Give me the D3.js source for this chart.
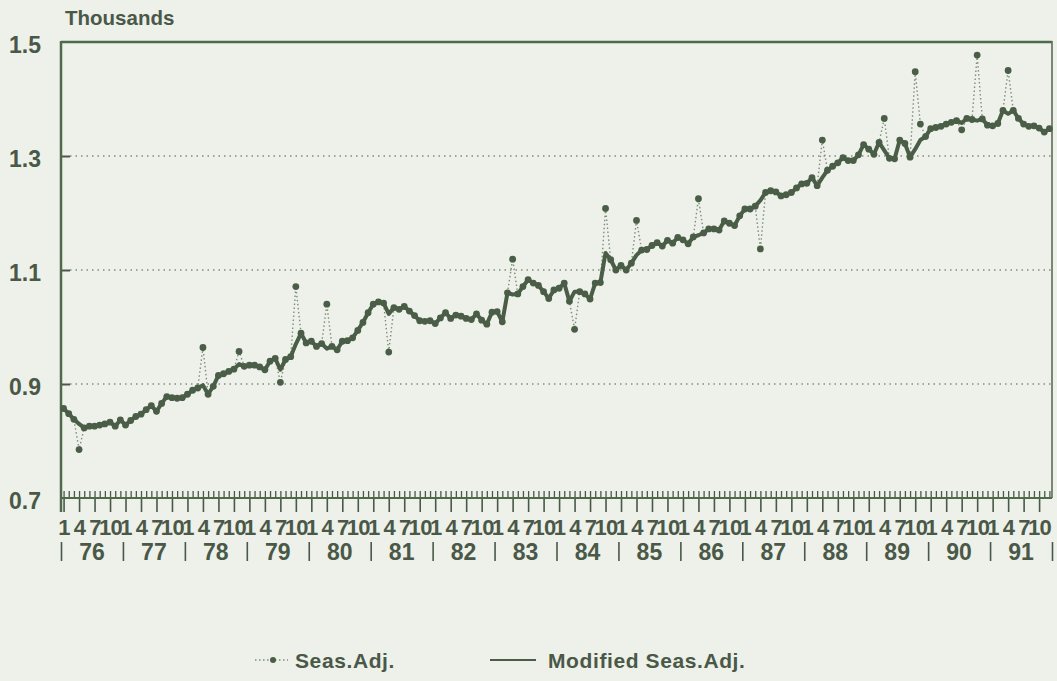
<!DOCTYPE html>
<html>
<head>
<meta charset="utf-8">
<script src="https://cdn.jsdelivr.net/npm/d3@7"></script>
<style>
  html, body { margin: 0; padding: 0; background: #edf1ea; }
  svg { display: block; font-family: "Liberation Sans", Arial, sans-serif; font-weight: bold; }
</style>
</head>
<body>
<div id="chart"></div>
<script>
const yearLabels = ["76", "77", "78", "79", "80", "81", "82", "83", "84", "85", "86", "87", "88", "89", "90", "91"];
const monthLabels = ["1", "4", "7", "10"];
const yTicks = [0.7, 0.9, 1.1, 1.3, 1.5];
const gridValues = [0.9, 1.1, 1.3];

// monthly values, Jan 1976 .. Dec 1991 (thousands)
const modified = [
  0.857, 0.848, 0.838, 0.830, 0.823, 0.826, 0.826, 0.828, 0.830, 0.833, 0.826, 0.837,
  0.828, 0.836, 0.843, 0.847, 0.855, 0.862, 0.852, 0.866, 0.878, 0.876, 0.875, 0.876,
  0.882, 0.889, 0.893, 0.898, 0.882, 0.896, 0.915, 0.918, 0.922, 0.926, 0.935, 0.931,
  0.933, 0.933, 0.930, 0.925, 0.940, 0.945, 0.925, 0.943, 0.948, 0.970, 0.989, 0.972,
  0.975, 0.966, 0.971, 0.962, 0.966, 0.960, 0.975, 0.976, 0.981, 0.994, 1.008, 1.025,
  1.040, 1.044, 1.042, 1.023, 1.034, 1.031, 1.036, 1.028, 1.020, 1.011, 1.010, 1.011,
  1.006, 1.016, 1.025, 1.015, 1.021, 1.019, 1.015, 1.013, 1.023, 1.012, 1.005, 1.026,
  1.027, 1.009, 1.060, 1.057, 1.058, 1.071, 1.083, 1.077, 1.073, 1.062, 1.050, 1.065,
  1.068, 1.077, 1.045, 1.062, 1.062, 1.058, 1.049, 1.077, 1.078, 1.130, 1.118, 1.100,
  1.108, 1.100, 1.112, 1.126, 1.135, 1.136, 1.143, 1.148, 1.142, 1.152, 1.147, 1.157,
  1.153, 1.146, 1.158, 1.161, 1.165, 1.172, 1.172, 1.170, 1.186, 1.182, 1.178, 1.195,
  1.207, 1.207, 1.212, 1.222, 1.236, 1.239, 1.237, 1.230, 1.232, 1.236, 1.244, 1.251,
  1.252, 1.262, 1.248, 1.262, 1.275, 1.282, 1.288, 1.297, 1.292, 1.292, 1.302, 1.320,
  1.312, 1.303, 1.324, 1.310, 1.296, 1.295, 1.328, 1.322, 1.298, 1.312, 1.328, 1.334,
  1.348, 1.350, 1.352, 1.356, 1.359, 1.362, 1.358, 1.366, 1.364, 1.362, 1.365, 1.354,
  1.353, 1.357, 1.380, 1.374, 1.380, 1.366, 1.356, 1.352, 1.353, 1.349, 1.342, 1.348
];

const seasAdj = [
  0.857, 0.848, 0.838, 0.785, 0.823, 0.826, 0.826, 0.828, 0.830, 0.833, 0.826, 0.837,
  0.828, 0.836, 0.843, 0.847, 0.855, 0.862, 0.852, 0.866, 0.878, 0.876, 0.875, 0.876,
  0.882, 0.889, 0.893, 0.964, 0.882, 0.896, 0.915, 0.918, 0.922, 0.926, 0.957, 0.931,
  0.933, 0.933, 0.930, 0.925, 0.940, 0.945, 0.903, 0.943, 0.948, 1.071, 0.989, 0.972,
  0.975, 0.966, 0.971, 1.040, 0.966, 0.960, 0.975, 0.976, 0.981, 0.994, 1.008, 1.025,
  1.040, 1.044, 1.042, 0.956, 1.034, 1.031, 1.036, 1.028, 1.020, 1.011, 1.010, 1.011,
  1.006, 1.016, 1.025, 1.015, 1.021, 1.019, 1.015, 1.013, 1.023, 1.012, 1.005, 1.026,
  1.027, 1.009, 1.060, 1.119, 1.058, 1.071, 1.083, 1.077, 1.073, 1.062, 1.050, 1.065,
  1.068, 1.077, 1.045, 0.996, 1.062, 1.058, 1.049, 1.077, 1.078, 1.208, 1.118, 1.100,
  1.108, 1.100, 1.112, 1.187, 1.135, 1.136, 1.143, 1.148, 1.142, 1.152, 1.147, 1.157,
  1.153, 1.146, 1.158, 1.225, 1.165, 1.172, 1.172, 1.170, 1.186, 1.182, 1.178, 1.195,
  1.207, 1.207, 1.212, 1.137, 1.236, 1.239, 1.237, 1.230, 1.232, 1.236, 1.244, 1.251,
  1.252, 1.262, 1.248, 1.328, 1.275, 1.282, 1.288, 1.297, 1.292, 1.292, 1.302, 1.320,
  1.312, 1.303, 1.324, 1.366, 1.296, 1.295, 1.328, 1.322, 1.298, 1.448, 1.356, 1.334,
  1.348, 1.350, 1.352, 1.356, 1.359, 1.362, 1.346, 1.366, 1.364, 1.477, 1.365, 1.354,
  1.353, 1.357, 1.380, 1.450, 1.380, 1.366, 1.356, 1.352, 1.353, 1.349, 1.342, 1.348
];

const legendLabels = ["Seas.Adj.", "Modified Seas.Adj."];

const width = 1057;
const height = 681;
const margin = { top: 42, right: 5, bottom: 183, left: 61 };
const ink = "#4a5847";
const lineInk = "#4a5d47";

const svg = d3.select("#chart")
  .append("svg")
  .attr("width", width)
  .attr("height", height)
  .attr("viewBox", [0, 0, width, height]);

const nMonths = modified.length;
const x = d3.scaleLinear()
  .domain([0, nMonths])
  .range([margin.left, width - margin.right]);
const y = d3.scaleLinear()
  .domain([0.7, 1.5])
  .range([height - margin.bottom, margin.top]);

const y0 = y(0.7);
const mid = i => i + 0.5;

// title
svg.append("text")
  .attr("x", 65)
  .attr("y", 25)
  .attr("fill", ink)
  .attr("font-size", 20.5)
  .text("Thousands");

// gridlines
svg.append("g")
  .selectAll("line")
  .data(gridValues)
  .join("line")
  .attr("x1", x(0) + 9)
  .attr("x2", x(nMonths))
  .attr("y1", d => y(d))
  .attr("y2", d => y(d))
  .attr("stroke", "#7f8e7b")
  .attr("stroke-width", 1.4)
  .attr("stroke-dasharray", "1.5,4");

// y axis labels
svg.append("g")
  .attr("transform", `translate(${margin.left},3)`)
  .call(d3.axisLeft(y).tickValues(yTicks).tickSize(0).tickPadding(20).tickFormat(d3.format(".1f")))
  .call(g => g.select(".domain").remove())
  .call(g => g.selectAll("text").attr("fill", ink).attr("font-size", 23).attr("font-family", null));

// y inner ticks
svg.append("g")
  .attr("transform", `translate(${margin.left},0)`)
  .call(d3.axisRight(y).tickValues(gridValues).tickSize(9).tickFormat(""))
  .call(g => g.select(".domain").remove())
  .call(g => g.selectAll("line").attr("stroke", ink).attr("stroke-width", 2));

// monthly minor ticks
svg.append("g")
  .attr("transform", `translate(0,${y0})`)
  .call(d3.axisTop(x).tickValues(d3.range(nMonths).map(mid)).tickSize(7).tickFormat(""))
  .call(g => g.select(".domain").remove())
  .call(g => g.selectAll("line").attr("stroke", ink).attr("stroke-width", 1.3));

// quarterly ticks with month labels
const quarterTicks = [];
yearLabels.forEach((yr, k) => monthLabels.forEach((m, q) => quarterTicks.push(mid(k * 12 + q * 3))));
svg.append("g")
  .attr("transform", `translate(0,${y0})`)
  .call(d3.axisBottom(x).tickValues(quarterTicks).tickSize(14).tickPadding(7)
    .tickFormat((d, i) => monthLabels[i % 4]))
  .call(g => g.select(".domain").remove())
  .call(g => g.selectAll("line").attr("stroke", ink).attr("stroke-width", 1.6))
  .call(g => g.selectAll("text").attr("fill", ink).attr("font-size", 22).attr("font-family", null)
    .attr("letter-spacing", -0.6));

// year separators
svg.append("g")
  .attr("transform", `translate(0,${y0 + 44})`)
  .call(d3.axisBottom(x).tickValues(d3.range(yearLabels.length + 1).map(k => k * 12)).tickSize(19).tickFormat(""))
  .call(g => g.select(".domain").remove())
  .call(g => g.selectAll("line").attr("stroke", ink).attr("stroke-width", 1.6));

// year labels
svg.append("g")
  .selectAll("text")
  .data(yearLabels)
  .join("text")
  .attr("x", (d, k) => x(k * 12 + 6))
  .attr("y", y0 + 62)
  .attr("text-anchor", "middle")
  .attr("fill", ink)
  .attr("font-size", 23)
  .text(d => d);

// frame
const frame = svg.append("g").attr("stroke", "#4f6a4b").attr("fill", "none");
frame.append("line").attr("x1", x(0)).attr("x2", x(nMonths)).attr("y1", y(1.5)).attr("y2", y(1.5)).attr("stroke-width", 2.5);
frame.append("line").attr("x1", x(0)).attr("x2", x(0)).attr("y1", y(1.5) - 1).attr("y2", y0 + 14).attr("stroke-width", 2.5);
frame.append("line").attr("x1", x(nMonths)).attr("x2", x(nMonths)).attr("y1", y(1.5) - 1).attr("y2", y0).attr("stroke-width", 1.6).attr("stroke", "#5d6b5a");
frame.append("line").attr("x1", x(0)).attr("x2", x(nMonths)).attr("y1", y0).attr("y2", y0).attr("stroke-width", 2);

// Seas.Adj. dotted line
const line = d3.line().x((d, i) => x(mid(i))).y(d => y(d));
svg.append("path")
  .datum(seasAdj)
  .attr("fill", "none")
  .attr("stroke", "#7e8d7a")
  .attr("stroke-width", 1.4)
  .attr("stroke-dasharray", "1.5,2.5")
  .attr("d", line);

// Modified Seas.Adj. solid line
svg.append("path")
  .datum(modified)
  .attr("fill", "none")
  .attr("stroke", lineInk)
  .attr("stroke-width", 4)
  .attr("stroke-linejoin", "round")
  .attr("d", line);

// Seas.Adj. markers
svg.append("g")
  .selectAll("circle")
  .data(seasAdj)
  .join("circle")
  .attr("cx", (d, i) => x(mid(i)))
  .attr("cy", d => y(d))
  .attr("r", 3.4)
  .attr("fill", lineInk);

// legend
const legend = svg.append("g").attr("transform", "translate(0,660)");
legend.append("line")
  .attr("x1", 255).attr("x2", 288).attr("y1", 0).attr("y2", 0)
  .attr("stroke", "#7e8d7a").attr("stroke-width", 1.4).attr("stroke-dasharray", "1.5,2.5");
legend.append("circle").attr("cx", 273).attr("cy", 0).attr("r", 3).attr("fill", lineInk);
legend.append("line")
  .attr("x1", 490).attr("x2", 536).attr("y1", 0).attr("y2", 0)
  .attr("stroke", lineInk).attr("stroke-width", 2);
legend.selectAll("text")
  .data(legendLabels)
  .join("text")
  .attr("x", (d, i) => i === 0 ? 295 : 548)
  .attr("y", 8)
  .attr("fill", ink)
  .attr("font-size", 21)
  .attr("letter-spacing", 0.6)
  .text(d => d);
</script>
</body>
</html>
